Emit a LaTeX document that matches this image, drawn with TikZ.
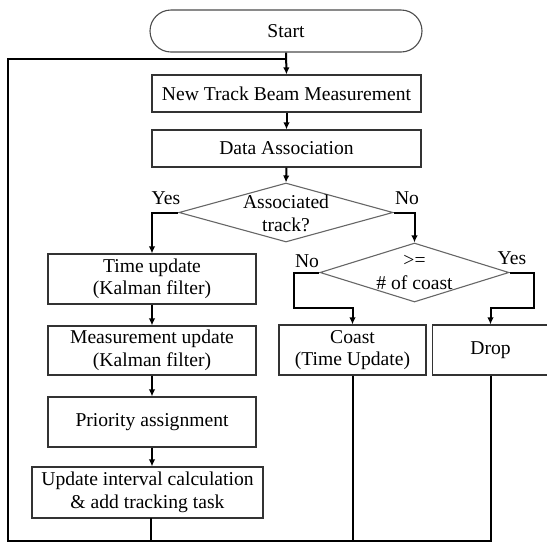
\documentclass[tikz,border=0pt]{standalone}
\usepackage{fontspec}
\setmainfont{Liberation Serif}
\usetikzlibrary{shapes.geometric,arrows.meta}
\begin{document}
\begin{tikzpicture}[x=1pt,y=-1pt,
  font=\fontsize{19.6}{22.5}\selectfont,
  box/.style={draw=black!80,line width=1.2pt,rectangle,inner sep=0pt,align=center,text=black},
  dia/.style={draw=black!60,line width=1.1pt,diamond,inner sep=0pt,shape aspect=3},
  term/.style={draw=black!70,line width=1.1pt,rectangle,rounded corners=21pt,inner sep=0pt},
  conn/.style={line width=2pt,black},
  arr/.style={conn,-{Latex[length=7pt,width=6.5pt]}},
  lbl/.style={inner sep=0pt,text=black}]
\useasboundingbox (0,0) rectangle (547,542);
% nodes
\node[term,minimum width=272,minimum height=42] (start) at (286,31) {Start};
\node[box,minimum width=269,minimum height=37] (ntbm) at (286.5,93.5) {New Track Beam Measurement};
\node[box,minimum width=269,minimum height=37] (da) at (286.5,148.5) {Data Association};
\node[dia,minimum width=214,minimum height=59] (d1) at (286,212.5) {};
\node[lbl,align=center] (d1t) at (286,213.5) {Associated\\track?};
\node[dia,minimum width=189,minimum height=59] (d2) at (414.5,272.5) {};
\node[lbl,align=center] (d2t) at (414.5,272.5) {>=\\\# of coast};
\node[box,minimum width=208,minimum height=50] (tu) at (152,279) {Time update\\(Kalman filter)};
\node[box,minimum width=208,minimum height=49] (mu) at (152,350.5) {Measurement update\\(Kalman filter)};
\node[box,minimum width=208,minimum height=50] (pa) at (152,422) {Priority assignment};
\node[box,minimum width=231,minimum height=51] (ui) at (147.5,492.5) {Update interval calculation\\\& add tracking task};
\node[box,minimum width=147,minimum height=50] (coast) at (352.5,350) {Coast\\(Time Update)};
\node[box,minimum width=116,minimum height=50] (drop) at (490.5,350) {Drop};
% labels
\node[lbl] (yes1) at (166,198) {Yes};
\node[lbl] (no1) at (407,198) {No};
\node[lbl] (no2) at (307,261) {No};
\node[lbl] (yes2) at (512,258) {Yes};
% coordinates
\coordinate (bl) at (8,541);
\coordinate (j) at (286,59);
\coordinate (n1) at (294,308);
\coordinate (n2) at (534,308);
\coordinate (uib) at (151,518);
% connectors
\draw[arr] (start.south) -- (ntbm.north);
\draw[arr] (ntbm.south) -- (da.north);
\draw[arr] (da.south) -- (d1.north);
\draw[arr] (d1.west) -| (tu.north);
\draw[arr] (d1.east) -| (d2.north);
\draw[arr] (tu.south) -- (mu.north);
\draw[arr] (mu.south) -- (pa.north);
\draw[arr] (pa.south) -- (pa.south |- ui.north);
\draw[arr] (d2.west) -| (n1) -| (coast.north);
\draw[arr] (d2.east) -| (n2) -| (drop.north);
\draw[conn,line join=miter] (drop.south) |- (bl) |- (j);
\draw[conn] (coast.south) -- (coast.south |- bl);
\draw[conn] (uib) -- (uib |- bl);
\end{tikzpicture}
\end{document}
